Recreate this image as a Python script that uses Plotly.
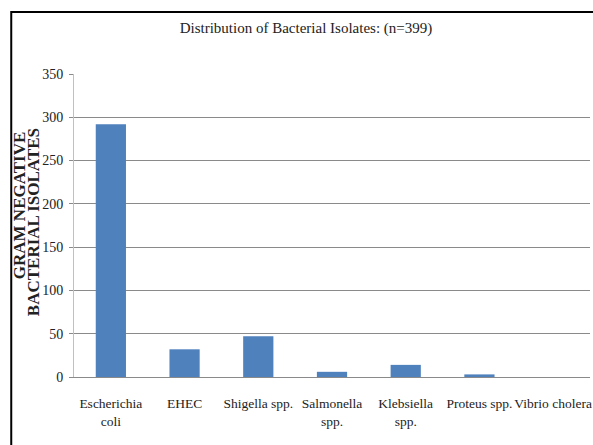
import plotly.graph_objects as go

# Isolate counts per organism
organisms = [
    "Escherichia<br>coli",
    "EHEC",
    "Shigella spp.",
    "Salmonella<br>spp.",
    "Klebsiella<br>spp.",
    "Proteus spp.",
    "Vibrio cholera",
]
isolates = [292, 32, 47, 6, 14, 3, 0]
y_ticks = [0, 50, 100, 150, 200, 250, 300, 350]

W, H = 593, 445
L, R, T, B = 74, 1, 74, 68
pw, ph = W - L - R, H - T - B

def px_to_paper_x(px):
    return (px - L) / pw

def px_to_paper_y(py):
    return (H - B - py) / ph

serif = "Liberation Serif"

fig = go.Figure(
    go.Bar(
        x=organisms,
        y=isolates,
        marker=dict(color="#4F81BD", line=dict(width=0)),
        width=0.41,
    )
)

fig.update_layout(
    width=W,
    height=H,
    margin=dict(l=L, r=R, t=T, b=B),
    paper_bgcolor="white",
    plot_bgcolor="white",
    showlegend=False,
    font=dict(family=serif, color="#222222"),
    title=dict(
        text="Distribution of Bacterial Isolates: (n=399)",
        x=306 / W,
        xanchor="center",
        y=1 - 28 / H,
        yanchor="middle",
        yref="container",
        font=dict(family=serif, size=15, color="#222222"),
    ),
    xaxis=dict(
        showline=True,
        linecolor="#8a8a8a",
        linewidth=1,
        ticks="",
        showgrid=False,
        tickfont=dict(family=serif, size=13.5, color="#222222"),
        tickangle=0,
        ticklabelstandoff=14,
    ),
    yaxis=dict(
        range=[0, 350],
        tickvals=y_ticks,
        showgrid=True,
        gridcolor="#8a8a8a",
        gridwidth=1,
        showline=True,
        linecolor="#c0c0c0",
        linewidth=1,
        ticks="outside",
        ticklen=4,
        tickcolor="#8a8a8a",
        zeroline=False,
        tickfont=dict(family=serif, size=14, color="#222222"),
        ticklabelstandoff=3,
    ),
    shapes=[
        dict(
            type="rect",
            xref="paper",
            yref="paper",
            x0=px_to_paper_x(11),
            x1=px_to_paper_x(605),
            y0=px_to_paper_y(460),
            y1=px_to_paper_y(12),
            line=dict(color="black", width=2),
            fillcolor="rgba(0,0,0,0)",
            layer="above",
        )
    ],
    annotations=[
        dict(
            text="<b>GRAM NEGATIVE</b>",
            xref="paper",
            yref="paper",
            x=px_to_paper_x(19),
            y=px_to_paper_y(205),
            xanchor="center",
            yanchor="middle",
            textangle=-90,
            showarrow=False,
            font=dict(family=serif, size=17, color="#222222"),
        ),
        dict(
            text="<b>BACTERIAL ISOLATES</b>",
            xref="paper",
            yref="paper",
            x=px_to_paper_x(33),
            y=px_to_paper_y(222),
            xanchor="center",
            yanchor="middle",
            textangle=-90,
            showarrow=False,
            font=dict(family=serif, size=17, color="#222222"),
        ),
    ],
)

fig.write_html("out.html")
